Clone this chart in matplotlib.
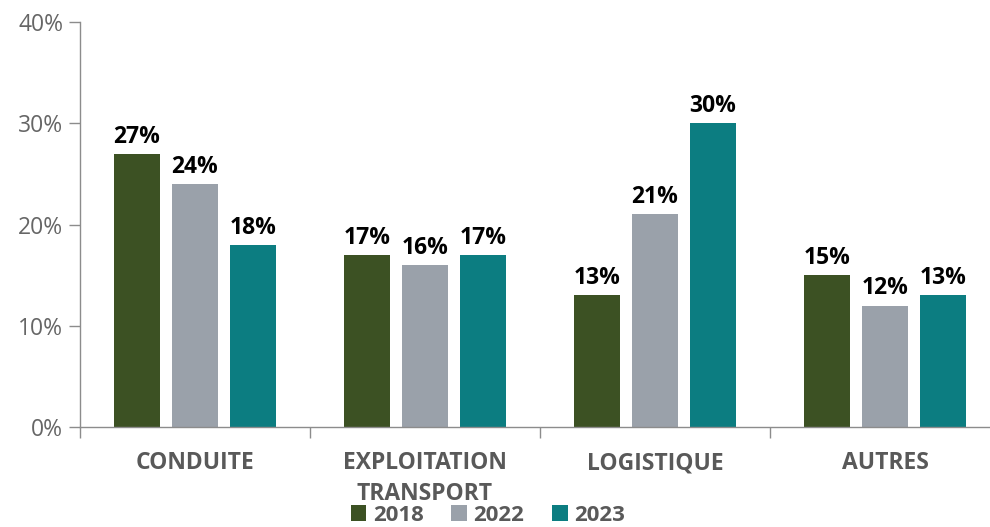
import matplotlib.pyplot as plt
import numpy as np

categories = ['CONDUITE', 'EXPLOITATION\nTRANSPORT', 'LOGISTIQUE', 'AUTRES']
years = ['2018', '2022', '2023']
v2018 = [27, 17, 13, 15]
v2022 = [24, 16, 21, 12]
v2023 = [18, 17, 30, 13]
colors = ['#3c5123', '#9aa1aa', '#0c7d81']

plt.rcParams['font.family'] = ['Open Sans', 'DejaVu Sans']

fig = plt.figure(figsize=(9.9, 5.27), dpi=100)
ax = fig.add_axes([80 / 990, 100 / 527, 910 / 990, 405 / 527])

x = np.arange(len(categories))
width = 0.2
step = 0.252
for i, (vals, year) in enumerate(zip([v2018, v2022, v2023], years)):
    bars = ax.bar(x + (i - 1) * step, vals, width, color=colors[i], label=year)
    for b, v in zip(bars, vals):
        ax.text(b.get_x() + b.get_width() / 2, v + 0.5, f'{v}%',
                ha='center', va='bottom', fontsize=16.5, fontweight='bold', color='black')

ax.set_xlim(-0.5, -0.5 + 910 / 230)
ax.set_ylim(0, 40)
ax.set_yticks([0, 10, 20, 30, 40])
ax.set_yticklabels([f'{t}%' for t in [0, 10, 20, 30, 40]])
ax.tick_params(axis='y', colors='#8c8c8c', labelcolor='#666666', labelsize=16.5, length=8, width=1, pad=4)

ax.set_xticks([-0.5, 0.5, 1.5, 2.5])
ax.set_xticklabels([])
ax.tick_params(axis='x', colors='#8c8c8c', length=8, width=1)
for xi, c in zip(x, categories):
    ax.text(xi, -2.4, c, ha='center', va='top', fontsize=16.5, fontweight='bold',
            color='#595959', linespacing=1.38)

for s in ['top', 'right']:
    ax.spines[s].set_visible(False)
for s in ['left', 'bottom']:
    ax.spines[s].set_color('#8c8c8c')
    ax.spines[s].set_linewidth(1)

leg = fig.legend(loc='lower center', bbox_to_anchor=(488 / 990, -0.036), ncol=3, frameon=False,
                 prop={'size': 16, 'weight': 'bold'}, handlelength=0.7, handleheight=0.7,
                 handletextpad=0.3, columnspacing=1.25)
for t in leg.get_texts():
    t.set_color('#595959')

fig.savefig('out.png', dpi=100)
